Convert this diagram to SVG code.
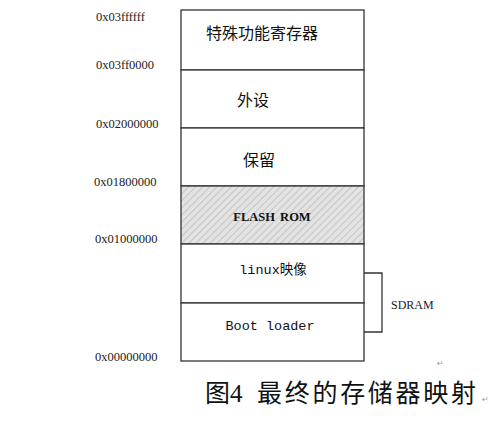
<svg xmlns="http://www.w3.org/2000/svg" width="500" height="421" viewBox="0 0 500 421">
<style>
.addr{font-family:"Liberation Serif",serif;font-size:12.5px;fill:#222}
.box{fill:#fff;stroke:#333;stroke-width:1.3}
.cjk{font-family:"Noto Sans CJK SC",sans-serif;font-size:16px;fill:#111;text-anchor:middle}
.mono{font-family:"Liberation Mono","Noto Sans CJK SC",monospace;font-size:13.5px;fill:#111;text-anchor:middle}
.mark{font-family:"DejaVu Sans",sans-serif;font-size:8px;fill:#999}
</style>
<defs>
<pattern id="hatch" patternUnits="userSpaceOnUse" width="5" height="5" patternTransform="rotate(45)">
<rect width="5" height="5" fill="#e3e3e3"/>
<line x1="0" y1="0" x2="0" y2="5" stroke="#a8a8a8" stroke-width="1"/>
</pattern>
</defs>
<rect width="500" height="421" fill="#fff"/>
<g id="addresses">
<text class="addr" x="96" y="21">0x03ffffff</text>
<text class="addr" x="96" y="69">0x03ff0000</text>
<text class="addr" x="96" y="128">0x02000000</text>
<text class="addr" x="94" y="186">0x01800000</text>
<text class="addr" x="95" y="243">0x01000000</text>
<text class="addr" x="95" y="361">0x00000000</text>
</g>
<g id="sfr">
<rect class="box" x="181" y="10" width="183" height="60"/>
<text class="cjk" x="262" y="39">特殊功能寄存器</text>
</g>
<g id="peripheral">
<rect class="box" x="181" y="70" width="183" height="58"/>
<text class="cjk" x="253" y="106">外设</text>
</g>
<g id="reserved">
<rect class="box" x="181" y="128" width="183" height="58"/>
<text class="cjk" x="259" y="166">保留</text>
</g>
<g id="flash">
<rect x="181" y="186" width="183" height="58" fill="url(#hatch)" stroke="#333" stroke-width="1.3"/>
<text x="272" y="221" text-anchor="middle" font-family="Liberation Serif,serif" font-weight="bold" font-size="12.5px" fill="#111" word-spacing="2">FLASH ROM</text>
</g>
<g id="linux">
<rect class="box" x="181" y="244" width="183" height="59"/>
<text class="mono" x="273" y="274">linux映像</text>
</g>
<g id="bootloader">
<rect class="box" x="181" y="303" width="183" height="58"/>
<text class="mono" x="270" y="330">Boot loader</text>
</g>
<g id="connectors">
<polyline points="364,273 382,273 382,332 364,332" fill="none" stroke="#333" stroke-width="1.3"/>
</g>
<g id="sdram">
<text x="391" y="309" font-family="Liberation Serif,serif" font-size="12px" fill="#222">SDRAM</text>
</g>
<text class="mark" x="437" y="366">↵</text>
<g id="caption">
<text x="205" y="402" font-family="Noto Sans CJK SC,sans-serif" font-size="25px" fill="#111">图</text>
<text x="230" y="402" font-family="Liberation Serif,serif" font-size="25px" fill="#111">4</text>
<text x="257" y="402" font-family="Noto Sans CJK SC,sans-serif" font-size="25px" fill="#111" textLength="219" lengthAdjust="spacing">最终的存储器映射</text>
<text class="mark" x="482" y="402">↵</text>
</g>
</svg>
